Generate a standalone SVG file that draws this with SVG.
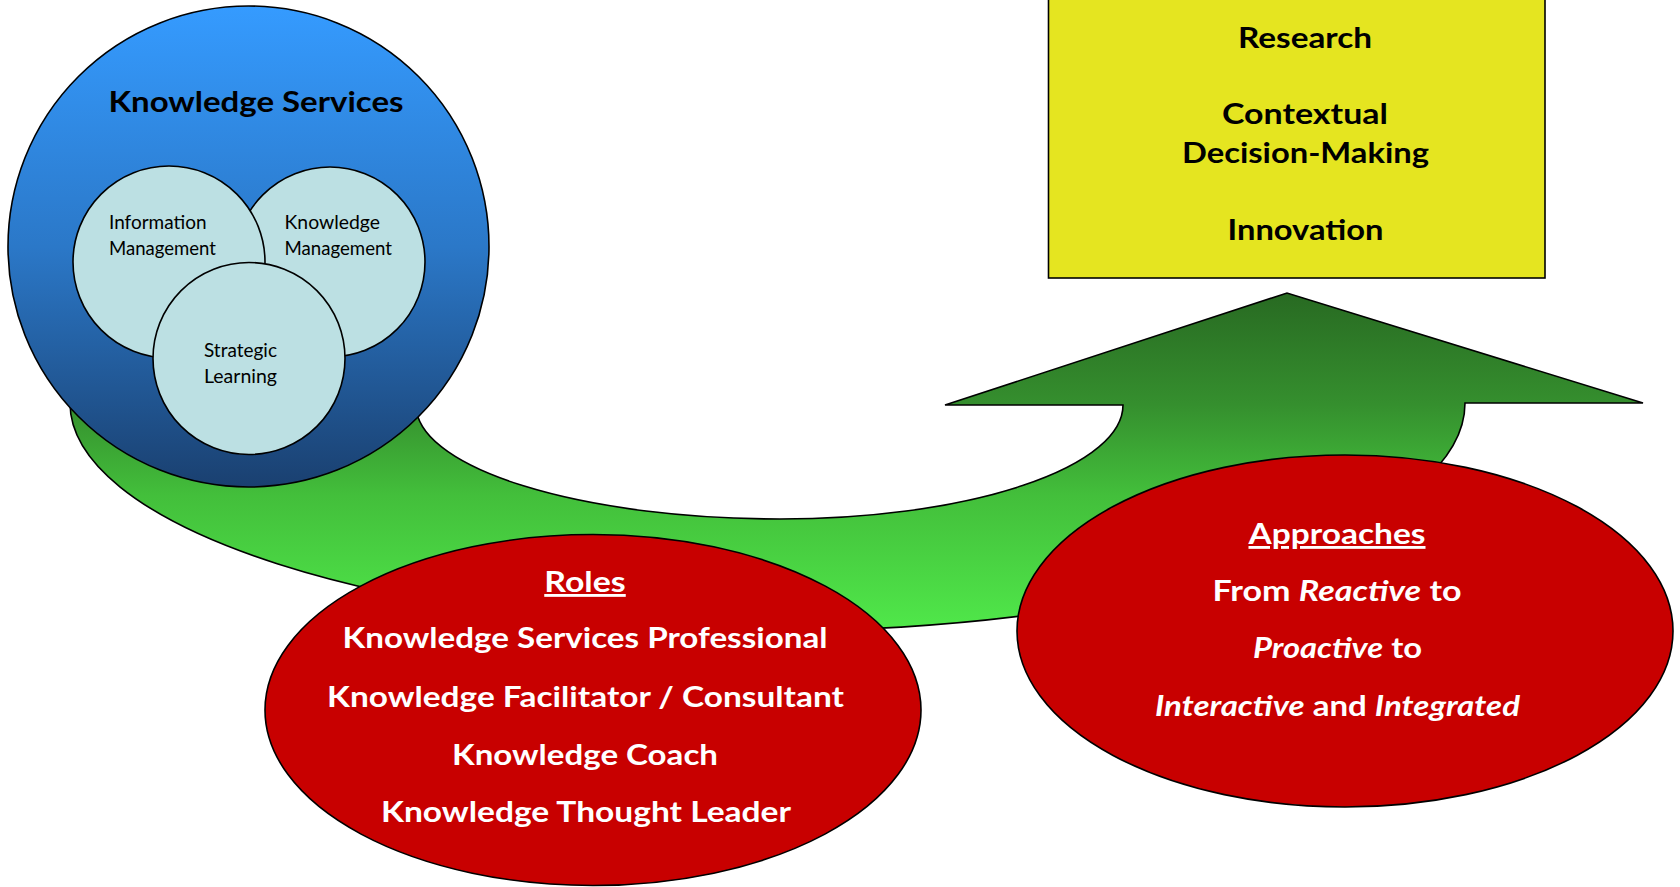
<svg xmlns="http://www.w3.org/2000/svg" width="1680" height="887" viewBox="0 0 1680 887">
<defs>
<linearGradient id="gBlue" x1="0" y1="0" x2="0" y2="1">
<stop offset="0" stop-color="#359bff"/>
<stop offset="0.5" stop-color="#2b78c8"/>
<stop offset="1" stop-color="#1a4070"/>
</linearGradient>
<linearGradient id="gGreen" gradientUnits="userSpaceOnUse" x1="0" y1="293" x2="0" y2="631">
<stop offset="0" stop-color="#286a22"/>
<stop offset="0.33" stop-color="#358f2e"/>
<stop offset="0.6" stop-color="#43bf3b"/>
<stop offset="1" stop-color="#50e84a"/>
</linearGradient>
</defs>
<style>
.ol{stroke:#000;stroke-width:1.6}
.inner{fill:#bce0e3;stroke:#000;stroke-width:1.6}
.red{fill:#c80000;stroke:#000;stroke-width:1.6}
.t{font-family:Lato,"Open Sans","Liberation Sans",sans-serif;font-weight:bold;font-size:28.5px;text-anchor:middle}
.w{fill:#fff}
.k{fill:#000}
.s{font-family:Lato,"Open Sans","Liberation Sans",sans-serif;font-size:18.5px;fill:#000}
.i{font-style:italic}
.u{text-decoration:underline}
</style>
<rect width="1680" height="887" fill="#fff"/>
<g id="connectors">
<path id="curved-arrow" class="ol" fill="url(#gGreen)" d="M 70 403 A 710 227.6 0 0 0 780 630.6 A 685 227.6 0 0 0 1465 403 L 1643 403 L 1287 293 L 945 405 L 1123 405 A 343 114 0 0 1 780 519 A 364 114 0 0 1 416 405 L 416 330 L 70 330 Z"/>
</g>
<g id="node-knowledge-services">
<circle class="ol" cx="248.5" cy="246.5" r="240.5" fill="url(#gBlue)"/>
<text class="t k" x="256" y="111.5" textLength="295" lengthAdjust="spacingAndGlyphs">Knowledge Services</text>
</g>
<g id="node-knowledge-management">
<circle class="inner" cx="330" cy="262" r="95"/>
<text class="s" x="284.5" y="229.3" textLength="95.5" lengthAdjust="spacingAndGlyphs">Knowledge</text>
<text class="s" x="284.5" y="255" textLength="107.5" lengthAdjust="spacingAndGlyphs">Management</text>
</g>
<g id="node-information-management">
<circle class="inner" cx="169" cy="262" r="96"/>
<text class="s" x="109" y="229.3" textLength="97.5" lengthAdjust="spacingAndGlyphs">Information</text>
<text class="s" x="109" y="255" textLength="107" lengthAdjust="spacingAndGlyphs">Management</text>
</g>
<g id="node-strategic-learning">
<circle class="inner" cx="249" cy="358.5" r="96"/>
<text class="s" x="204" y="356.7" textLength="73" lengthAdjust="spacingAndGlyphs">Strategic</text>
<text class="s" x="204" y="383" textLength="73" lengthAdjust="spacingAndGlyphs">Learning</text>
</g>
<g id="node-outcomes">
<rect class="ol" x="1048.5" y="-2" width="496.5" height="280" fill="#e5e520"/>
<text class="t k" x="1305" y="48" textLength="134" lengthAdjust="spacingAndGlyphs">Research</text>
<text class="t k" x="1305" y="124" textLength="166" lengthAdjust="spacingAndGlyphs">Contextual</text>
<text class="t k" x="1305.5" y="163" textLength="247" lengthAdjust="spacingAndGlyphs">Decision-Making</text>
<text class="t k" x="1305.5" y="240" textLength="156" lengthAdjust="spacingAndGlyphs">Innovation</text>
</g>
<g id="node-roles">
<ellipse class="red" cx="593" cy="710" rx="328" ry="175.5"/>
<text class="t w u" x="585" y="592" textLength="81.5" lengthAdjust="spacingAndGlyphs">Roles</text>
<text class="t w" x="585" y="648" textLength="485" lengthAdjust="spacingAndGlyphs">Knowledge Services Professional</text>
<text class="t w" x="585.5" y="707" textLength="517" lengthAdjust="spacingAndGlyphs">Knowledge Facilitator / Consultant</text>
<text class="t w" x="585" y="765" textLength="266" lengthAdjust="spacingAndGlyphs">Knowledge Coach</text>
<text class="t w" x="586" y="822" textLength="410" lengthAdjust="spacingAndGlyphs">Knowledge Thought Leader</text>
</g>
<g id="node-approaches">
<ellipse class="red" cx="1345" cy="631" rx="328" ry="176"/>
<text class="t w u" x="1337" y="544" textLength="177" lengthAdjust="spacingAndGlyphs">Approaches</text>
<text class="t w" x="1337" y="601" textLength="249" lengthAdjust="spacingAndGlyphs">From <tspan class="i">Reactive</tspan> to</text>
<text class="t w" x="1337.5" y="658" textLength="169" lengthAdjust="spacingAndGlyphs"><tspan class="i">Proactive</tspan> to</text>
<text class="t w" x="1337.5" y="716" textLength="365" lengthAdjust="spacingAndGlyphs"><tspan class="i">Interactive</tspan> and <tspan class="i">Integrated</tspan></text>
</g>
</svg>
